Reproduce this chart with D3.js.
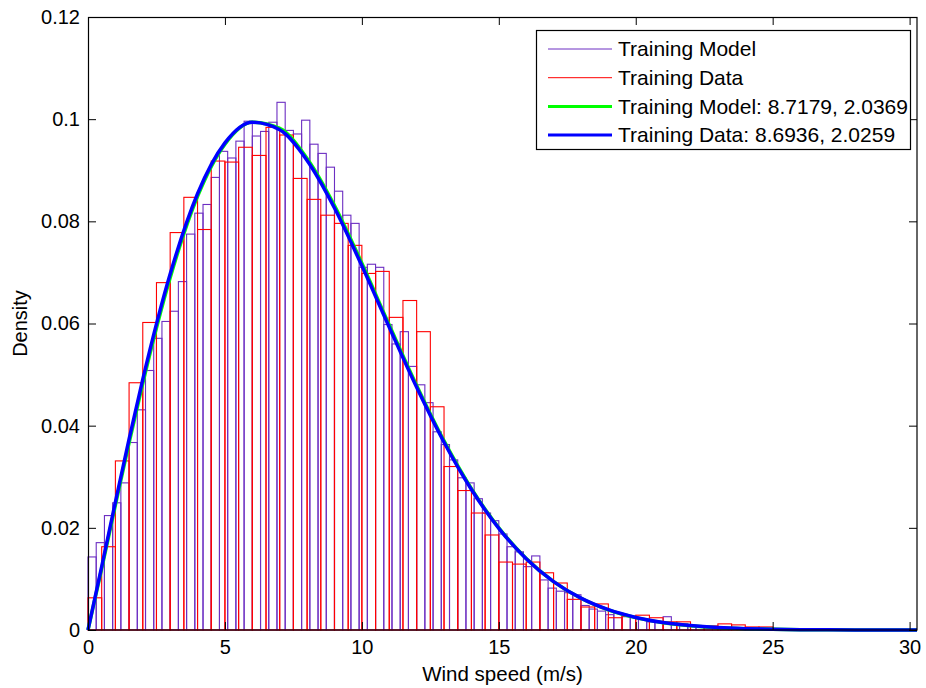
<!DOCTYPE html>
<html>
<head>
<meta charset="utf-8">
<script src="https://cdn.jsdelivr.net/npm/d3@7"></script>
<style>
  body { margin: 0; background: #fff; }
  svg { display: block; font-family: "Liberation Sans", Arial, sans-serif; }
  .axis text { font-size: 20px; fill: #000; }
  .axis line, .axis path { stroke: #000; }
</style>
</head>
<body>
<div id="chart"></div>
<script>
// histogram densities, Training Model (bins of 0.3 m/s from 0)
const modelBinWidth = 0.3;
const modelDensity = [
  0.0143, 0.0171, 0.0224, 0.0249, 0.0288, 0.0367, 0.0431, 0.0508, 0.0571, 0.0604,
  0.0624, 0.0682, 0.0775, 0.0816, 0.0833, 0.0886, 0.0937, 0.0924, 0.0957, 0.0996,
  0.0967, 0.0976, 0.0994, 0.1033, 0.0978, 0.0971, 0.0998, 0.0951, 0.0933, 0.0906,
  0.0859, 0.0812, 0.0796, 0.0710, 0.0716, 0.0710, 0.0598, 0.0560, 0.0584, 0.0516,
  0.0480, 0.0445, 0.0388, 0.0363, 0.0333, 0.0298, 0.0288, 0.0257, 0.0229, 0.0214,
  0.0188, 0.0163, 0.0153, 0.0124, 0.0145, 0.0098, 0.0082, 0.0076, 0.0073, 0.0069,
  0.0048, 0.0041, 0.0037, 0.0030, 0.0033, 0.0026, 0.0025, 0.0021, 0.0016, 0.0016,
  0.0026, 0.0013, 0.0012, 0.0009, 0.0006, 0.0004, 0.0004, 0.0002, 0.0002, 0.0001,
  0.0001
];

// histogram densities, Training Data (bins of 0.5 m/s from 0)
const dataBinWidth = 0.5;
const dataDensity = [
  0.0063, 0.0163, 0.0331, 0.0484, 0.0602, 0.0680, 0.0778, 0.0847, 0.0784, 0.0918,
  0.0916, 0.0945, 0.0929, 0.0984, 0.0969, 0.0884, 0.0843, 0.0812, 0.0796, 0.0753,
  0.0698, 0.0702, 0.0612, 0.0645, 0.0584, 0.0437, 0.0320, 0.0273, 0.0229, 0.0186,
  0.0133, 0.0129, 0.0133, 0.0112, 0.0092, 0.0060, 0.0045, 0.0051, 0.0024, 0.0027,
  0.0029, 0.0024, 0.0016, 0.0016, 0.0008, 0.0008, 0.0012, 0.0010, 0.0006, 0.0006
];

// fitted curves
const curveX = [0, 0.5, 1, 1.5, 2, 3, 4, 5, 6, 7, 8, 9, 10, 11, 12, 13, 14, 15, 16,
  17, 18, 19, 20, 21, 22, 23, 24, 25, 26, 27, 28, 29, 30, 30.27];
const modelFit = [0, 0.01202, 0.02444, 0.03663, 0.04830, 0.06897, 0.08489, 0.09512,
  0.09941, 0.09818, 0.09232, 0.08309, 0.07178, 0.05969, 0.04785, 0.03701, 0.02767,
  0.02001, 0.01399, 0.00947, 0.00621, 0.00394, 0.00242, 0.00144, 0.00083, 0.00046,
  0.00025, 0.00013, 0.00006, 0.00003, 0.00001, 0, 0, 0];
const dataFit = [0, 0.01241, 0.02504, 0.03735, 0.04905, 0.06967, 0.08540, 0.09535,
  0.09939, 0.09792, 0.09192, 0.08261, 0.07129, 0.05926, 0.04750, 0.03675, 0.02750,
  0.01991, 0.01395, 0.00947, 0.00623, 0.00397, 0.00246, 0.00147, 0.00086, 0.00048,
  0.00026, 0.00014, 0.00007, 0.00003, 0.00001, 0, 0, 0];

const xTicks = [0, 5, 10, 15, 20, 25, 30];
const yTicks = [0, 0.02, 0.04, 0.06, 0.08, 0.1, 0.12];
const legendLabels = ["Training Model", "Training Data",
  "Training Model: 8.7179, 2.0369", "Training Data: 8.6936, 2.0259"];

const W = 926, H = 688;
const margin = { top: 17, right: 9, bottom: 58, left: 88 };
const width = W - margin.left - margin.right,
  height = H - margin.top - margin.bottom;

const colors = { model: "#6c2ec2", data: "#ff0000", modelFit: "#00ff00", dataFit: "#0000ff" };

const svg = d3.select("#chart").append("svg")
  .attr("width", W).attr("height", H);

const g = svg.append("g")
  .attr("transform", `translate(${margin.left},${margin.top})`);

const x = d3.scaleLinear().domain([0, 30.27]).range([0, width]);
const y = d3.scaleLinear().domain([0, 0.12]).range([height, 0]);

function drawHist(values, bw, color, cls) {
  g.selectAll("." + cls)
    .data(values)
    .enter()
    .append("rect")
    .attr("class", cls)
    .attr("x", (d, i) => x(i * bw))
    .attr("y", (d) => y(d))
    .attr("width", (d, i) => x((i + 1) * bw) - x(i * bw))
    .attr("height", (d) => y(0) - y(d))
    .attr("fill", "none")
    .attr("stroke", color)
    .attr("stroke-width", 1.1);
}

drawHist(modelDensity, modelBinWidth, colors.model, "bar-model");
drawHist(dataDensity, dataBinWidth, colors.data, "bar-data");

const line = (vals) => d3.line()
  .x((d, i) => x(curveX[i]))
  .y((d) => y(d))
  .curve(d3.curveMonotoneX)(vals);

g.append("path").attr("d", line(modelFit))
  .attr("fill", "none").attr("stroke", colors.modelFit).attr("stroke-width", 3.5);
g.append("path").attr("d", line(dataFit))
  .attr("fill", "none").attr("stroke", colors.dataFit).attr("stroke-width", 3.5);

// axes, MATLAB style: ticks pointing inward on all four sides
const fmt = (d) => (d === 0 ? "0" : String(+d.toFixed(2)));

g.append("g").attr("class", "axis")
  .attr("transform", `translate(0,${height})`)
  .call(d3.axisBottom(x).tickValues(xTicks).tickSize(-8).tickSizeOuter(0).tickPadding(10).tickFormat(fmt));
g.append("g").attr("class", "axis")
  .call(d3.axisLeft(y).tickValues(yTicks).tickSize(-8).tickSizeOuter(0).tickPadding(8).tickFormat(fmt));
g.append("g").attr("class", "axis")
  .call(d3.axisTop(x).tickValues(xTicks).tickSize(-8).tickSizeOuter(0).tickFormat(""));
g.append("g").attr("class", "axis")
  .attr("transform", `translate(${width},0)`)
  .call(d3.axisRight(y).tickValues(yTicks).tickSize(-8).tickSizeOuter(0).tickFormat(""));

g.selectAll(".axis path.domain").remove();
g.append("rect")
  .attr("x", 0.5).attr("y", 0.5)
  .attr("width", width - 0.5).attr("height", height - 0.5)
  .attr("fill", "none").attr("stroke", "#000").attr("stroke-width", 1.2);

svg.append("text")
  .attr("x", margin.left + width / 2).attr("y", 681)
  .attr("text-anchor", "middle").attr("font-size", 20.5)
  .text("Wind speed (m/s)");

svg.append("text")
  .attr("transform", `translate(27,${margin.top + height / 2}) rotate(-90)`)
  .attr("text-anchor", "middle").attr("font-size", 20)
  .text("Density");

// legend
const legend = svg.append("g").attr("transform", "translate(536,30)");
legend.append("rect")
  .attr("x", 0.5).attr("y", 0.5).attr("width", 374).attr("height", 119)
  .attr("fill", "#fff").attr("stroke", "#000").attr("stroke-width", 1.2);

const legendStyles = [
  { color: colors.model, w: 1 },
  { color: colors.data, w: 1 },
  { color: colors.modelFit, w: 3 },
  { color: colors.dataFit, w: 3 },
];
legendLabels.forEach((label, i) => {
  const row = legend.append("g").attr("transform", `translate(0,${19 + i * 28.7})`);
  row.append("line")
    .attr("x1", 12).attr("x2", 76)
    .attr("stroke", legendStyles[i].color).attr("stroke-width", legendStyles[i].w);
  row.append("text")
    .attr("x", 82).attr("dy", "0.35em").attr("font-size", 21)
    .text(label);
});
</script>
</body>
</html>
